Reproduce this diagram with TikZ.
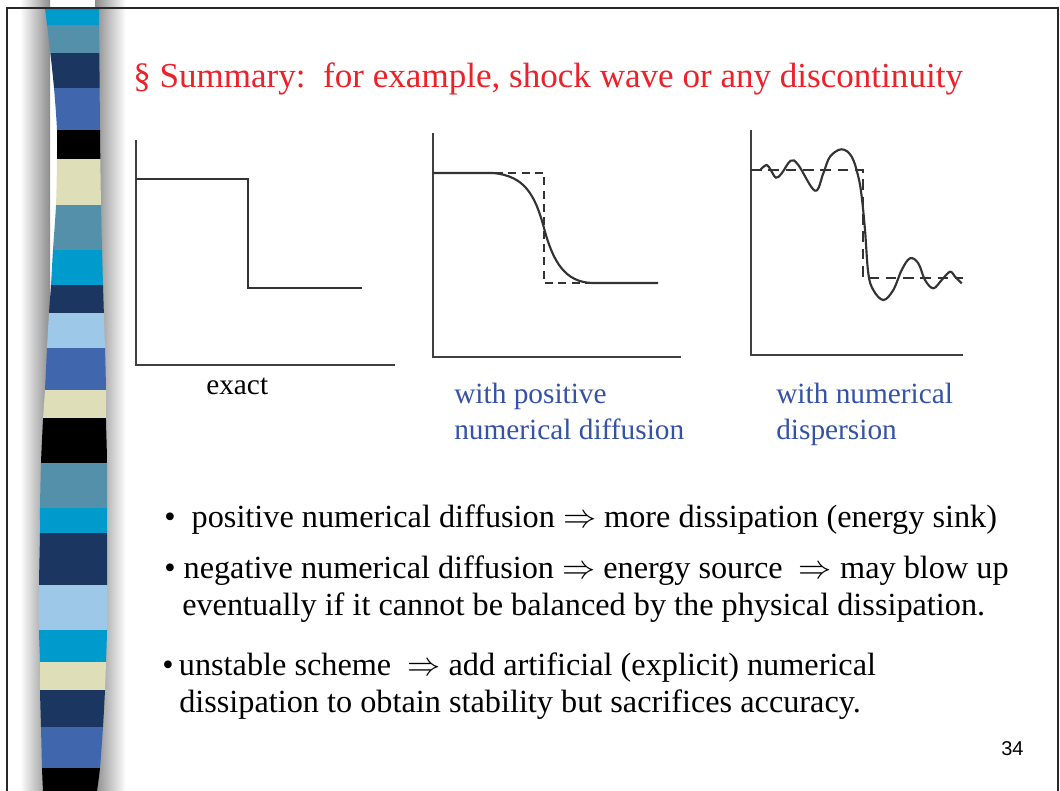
\documentclass[tikz,border=0pt]{standalone}
\usepackage{fontspec}
\setmainfont{Liberation Serif}
\newfontfamily\sansf{Liberation Sans}
\definecolor{cyanS}{RGB}{0,155,205}
\definecolor{steelS}{RGB}{84,144,170}
\definecolor{navyS}{RGB}{27,54,96}
\definecolor{medS}{RGB}{64,102,174}
\definecolor{paleS}{RGB}{222,223,184}
\definecolor{lightS}{RGB}{158,200,232}
\definecolor{titleRed}{RGB}{238,32,40}
\definecolor{labBlue}{RGB}{52,82,168}
\definecolor{frameC}{RGB}{40,40,40}
\tikzset{
  plotline/.style={line width=1.6pt, draw=black!80},
  dashline/.style={line width=1.4pt, draw=black!80, dash pattern=on 6pt off 4pt},
  axisline/.style={line width=1.6pt, draw=black!75},
  txt/.style={inner sep=0pt, anchor=base west, font=\fontsize{24.2}{28}\selectfont},
  lab/.style={inner sep=0pt, anchor=base west, font=\fontsize{22}{26}\selectfont},
}
\begin{document}
\begin{tikzpicture}[x=0.75pt,y=-0.75pt]
\useasboundingbox (0,0) rectangle (1060,791);
\fill[white] (0,0) rectangle (1060,791);
% side shading
\shade[left color=white, right color=black!45] (20,0) rectangle (50,791);
\shade[left color=black!45, right color=white] (95,0) rectangle (126,791);
% stripe bar
\begin{scope}
\clip plot[smooth] coordinates {(45,8) (50,50) (54,88) (57,130) (57,160) (56,205) (53,250) (51,285) (49,313) (47,348) (45,390) (43,420) (41,463) (40,508) (40,533) (39,585) (39,630) (40,662) (40,690) (41,727) (42,768) (43,791)}
  -- plot[smooth] coordinates {(97,791) (100,768) (103,727) (105,690) (106,662) (107,630) (107,585) (107,533) (107,463) (106,420) (106,390) (105,348) (103,285) (101,205) (100,130) (99,8)} -- cycle;
\fill[cyanS] (30,0) rectangle (120,25);
\fill[steelS] (30,25) rectangle (120,53);
\fill[navyS] (30,53) rectangle (120,88);
\fill[medS] (30,88) rectangle (120,130);
\fill[black] (30,130) rectangle (120,159);
\fill[paleS] (30,159) rectangle (120,205);
\fill[steelS] (30,205) rectangle (120,250);
\fill[cyanS] (30,250) rectangle (120,285);
\fill[navyS] (30,285) rectangle (120,313);
\fill[lightS] (30,313) rectangle (120,348);
\fill[medS] (30,348) rectangle (120,390);
\fill[paleS] (30,390) rectangle (120,418);
\fill[black] (30,418) rectangle (120,463);
\fill[steelS] (30,463) rectangle (120,508);
\fill[cyanS] (30,508) rectangle (120,533);
\fill[navyS] (30,533) rectangle (120,585);
\fill[lightS] (30,585) rectangle (120,630);
\fill[cyanS] (30,630) rectangle (120,662);
\fill[paleS] (30,662) rectangle (120,690);
\fill[navyS] (30,690) rectangle (120,727);
\fill[medS] (30,727) rectangle (120,768);
\fill[black] (30,768) rectangle (120,791);
\end{scope}
% frame
\draw[frameC, line width=2pt] (7,791) -- (7,8) -- (1058,8) -- (1058,791);
% title
\node[inner sep=0pt, anchor=base west, text=titleRed, font=\fontsize{26.3}{31}\selectfont] (title) at (133,88) {\S\ Summary:\ \ for example, shock wave or any discontinuity};
% plot 1: exact
\draw[axisline] (136,140) -- (136,365) -- (395,365);
\draw[plotline] (136,179) -- (248,179) -- (248,288) -- (362,288);
\node[lab] (exact) at (206,395) {exact};
% plot 2: diffusion
\draw[axisline] (433,133) -- (433,357) -- (681,357);
\draw[dashline] (495,173) -- (544,173) -- (544,283) -- (592,283);
\draw[plotline] (433,173) -- (493,173) .. controls (525,176) and (535,195) .. (544,228) .. controls (553,262) and (565,282) .. (592,283) -- (658,283);
\node[lab, text=labBlue] (diffA) at (454,403) {with positive};
\node[lab, text=labBlue] (diffB) at (454,440) {numerical diffusion};
% plot 3: dispersion
\draw[axisline] (751,130) -- (751,355) -- (963,355);
\draw[dashline, dash pattern=on 8pt off 5pt] (751,170) -- (863,170) -- (863,278) -- (963,278);
\draw[plotline] plot[smooth, tension=0.6] coordinates {(760.7,169.3) (766.7,165) (770.7,170) (776,177.7) (781.7,173.3) (790.7,160.7) (798.3,165) (815,190.7) (823.3,173.3) (830,156.7) (841.7,149.3) (851.7,156.7) (858.3,176.7) (861.7,196.7) (865,230) (868.3,273.3) (873.3,290) (883.3,300) (893.3,290) (901.7,270) (910,258.3) (918.3,263.3) (925,280) (933.3,288.3) (941.7,280) (950,271.7) (955,276.7) (961.7,283.3)};
\node[lab, text=labBlue] (dispA) at (776,403) {with numerical};
\node[lab, text=labBlue] (dispB) at (776,440) {dispersion};
% bullets
\node[txt] (b1) at (164,527) {\textbullet\ \ positive numerical diffusion $\Rightarrow$ more dissipation (energy sink)};
\node[txt] (b2a) at (164,578) {\textbullet\ negative numerical diffusion $\Rightarrow$ energy source\ \ $\Rightarrow$ may blow up};
\node[txt] (b2b) at (182,615) {eventually if it cannot be balanced by the physical dissipation.};
\node[txt] (b3a) at (162,675) {\textbullet\,unstable scheme\ \ $\Rightarrow$ add artificial (explicit) numerical};
\node[txt] (b3b) at (179,712) {dissipation to obtain stability but sacrifices accuracy.};
\node[inner sep=0pt, anchor=base west, font=\sansf\fontsize{15}{18}\selectfont] (pg) at (1001,755) {34};
\end{tikzpicture}
\end{document}
